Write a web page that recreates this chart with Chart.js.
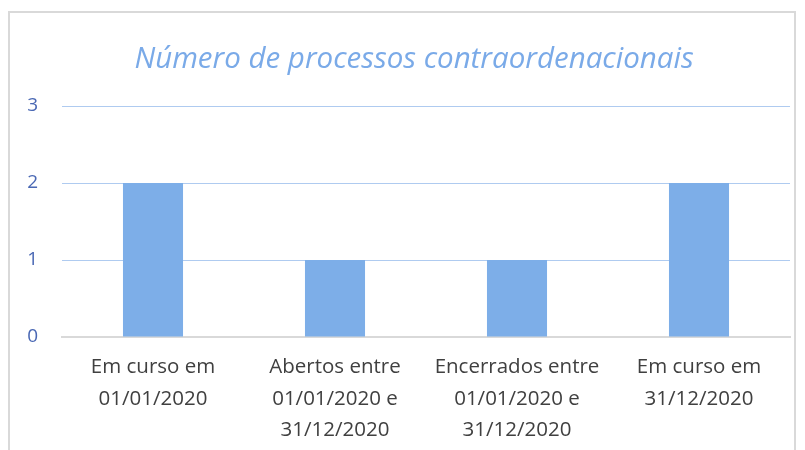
<!DOCTYPE html>
<html lang="pt">
<head>
<meta charset="UTF-8">
<title>Número de processos contraordenacionais</title>
<style>
  body { margin: 0; padding: 0; background: #fff; }
  #frame {
    position: absolute; left: 8px; top: 11px; width: 788px; height: 460px;
    border: 2px solid #d9d9d9; box-sizing: border-box;
  }
  #wrap { position: absolute; left: 0; top: 0; width: 805px; height: 450px; }
</style>
</head>
<body>
<div id="frame"></div>
<div id="wrap"><canvas id="chart" width="805" height="450"></canvas></div>
<script src="https://cdn.jsdelivr.net/npm/chart.js@4/dist/chart.umd.min.js"></script>
<script>
  var categories = [
    ['Em curso em', '01/01/2020'],
    ['Abertos entre', '01/01/2020 e', '31/12/2020'],
    ['Encerrados entre', '01/01/2020 e', '31/12/2020'],
    ['Em curso em', '31/12/2020']
  ];
  var processos = [2, 1, 1, 2];
  var yTicks = [0, 1, 2, 3];

  // the title sits a bit right of the canvas centre, as in the original
  var shiftTitle = {
    id: 'shiftTitle',
    afterLayout: function(chart) {
      if (chart.titleBlock) chart.titleBlock.left += 38;
    }
  };

  var ctx = document.getElementById('chart').getContext('2d');
  var chart = new Chart(ctx, {
    type: 'bar',
    data: {
      labels: categories,
      datasets: [{
        label: 'Processos',
        data: processos,
        backgroundColor: '#7daee8',
        borderWidth: 0,
        categoryPercentage: 1,
        barPercentage: 0.33
      }]
    },
    options: {
      responsive: false,
      animation: false,
      layout: { padding: { left: 0, right: 15, top: 0, bottom: 0 } },
      plugins: {
        legend: { display: false },
        tooltip: { enabled: false },
        title: {
          display: true,
          text: 'Número de processos contraordenacionais',
          color: '#7aaae8',
          font: { family: 'Open Sans', size: 29.5, style: 'italic', weight: 'normal', lineHeight: 1.2 },
          padding: { top: 42, bottom: 28.6 }
        }
      },
      scales: {
        x: {
          grid: { display: false },
          border: { display: true, color: '#d9d9d9', width: 2 },
          ticks: {
            color: '#404040',
            font: { family: 'Open Sans', size: 20.5, lineHeight: 1.52 },
            padding: 7,
            maxRotation: 0
          },
          afterFit: function(axis) { axis.height = 113; }
        },
        y: {
          min: 0,
          max: 3,
          afterBuildTicks: function(axis) {
            axis.ticks = yTicks.map(function(v) { return { value: v }; });
          },
          grid: { color: '#afcbf0', drawTicks: false },
          border: { display: false },
          ticks: {
            color: '#4a68b4',
            font: { family: 'Open Sans', size: 19 },
            padding: 24
          },
          afterFit: function(axis) { axis.width = 62; }
        }
      }
    },
    plugins: [shiftTitle]
  });
</script>
</body>
</html>
